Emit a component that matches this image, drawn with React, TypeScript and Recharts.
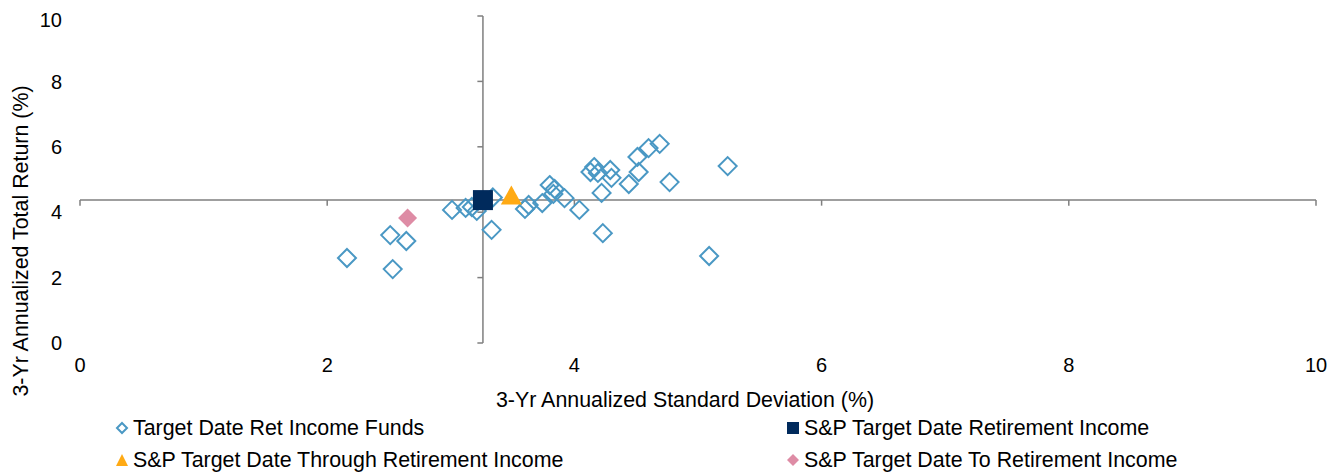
import { Label, ReferenceLine, Scatter, ScatterChart, XAxis, YAxis, ZAxis } from "recharts";

const fundReturns = [
  { sd: 2.16, ret: 2.6 },
  { sd: 2.51, ret: 3.3 },
  { sd: 2.64, ret: 3.12 },
  { sd: 2.53, ret: 2.26 },
  { sd: 3.01, ret: 4.07 },
  { sd: 3.12, ret: 4.13 },
  { sd: 3.17, ret: 4.16 },
  { sd: 3.21, ret: 4.04 },
  { sd: 3.34, ret: 4.45 },
  { sd: 3.33, ret: 3.46 },
  { sd: 3.6, ret: 4.1 },
  { sd: 3.63, ret: 4.22 },
  { sd: 3.74, ret: 4.28 },
  { sd: 3.8, ret: 4.83 },
  { sd: 3.84, ret: 4.71 },
  { sd: 3.83, ret: 4.56 },
  { sd: 3.92, ret: 4.43 },
  { sd: 4.04, ret: 4.07 },
  { sd: 4.13, ret: 5.23 },
  { sd: 4.16, ret: 5.38 },
  { sd: 4.19, ret: 5.2 },
  { sd: 4.29, ret: 5.29 },
  { sd: 4.3, ret: 5.05 },
  { sd: 4.22, ret: 4.59 },
  { sd: 4.23, ret: 3.36 },
  { sd: 4.44, ret: 4.86 },
  { sd: 4.52, ret: 5.23 },
  { sd: 4.51, ret: 5.69 },
  { sd: 4.6, ret: 5.96 },
  { sd: 4.69, ret: 6.09 },
  { sd: 4.77, ret: 4.92 },
  { sd: 5.24, ret: 5.41 },
  { sd: 5.09, ret: 2.66 },
];

const retirementIncome = [{ sd: 3.26, ret: 4.37 }];
const throughRetirement = [{ sd: 3.49, ret: 4.45 }];
const toRetirement = [{ sd: 2.65, ret: 3.82 }];

const xTicks = [0, 2, 4, 6, 8, 10];
const yTicks = [0, 2, 4, 6, 8, 10];

// axes cross at the S&P Target Date Retirement Income point
const crossX = retirementIncome[0].sd;
const crossY = retirementIncome[0].ret;

const FONT = "'Liberation Sans', Arial, sans-serif";
const AXIS = "#7f7f7f";
const BLUE = "#4a98c4";
const NAVY = "#002a5c";
const ORANGE = "#ffaa14";
const PINK = "#de8ca5";

function OpenDiamond({ cx, cy }: any) {
  const r = 9;
  return (
    <polygon
      points={`${cx},${cy - r} ${cx + r},${cy} ${cx},${cy + r} ${cx - r},${cy}`}
      fill="none"
      stroke={BLUE}
      strokeWidth={2}
    />
  );
}

function PinkDiamond({ cx, cy }: any) {
  const r = 9.5;
  return <polygon points={`${cx},${cy - r} ${cx + r},${cy} ${cx},${cy + r} ${cx - r},${cy}`} fill={PINK} />;
}

function NavySquare({ cx, cy }: any) {
  return <rect x={cx - 10} y={cy - 10} width={20} height={20} fill={NAVY} />;
}

function OrangeTriangle({ cx, cy }: any) {
  return <polygon points={`${cx},${cy - 12} ${cx + 10.5},${cy + 7} ${cx - 10.5},${cy + 7}`} fill={ORANGE} />;
}

const legendItems = [
  { name: "Target Date Ret Income Funds", icon: "open", left: 107, top: 420 },
  { name: "S&P Target Date Retirement Income", icon: "square", left: 778, top: 420 },
  { name: "S&P Target Date Through Retirement Income", icon: "triangle", left: 107, top: 452 },
  { name: "S&P Target Date To Retirement Income", icon: "pink", left: 778, top: 452 },
];

function LegendIcon({ icon }: { icon: string }) {
  return (
    <svg width={14} height={14} style={{ marginRight: 4 }}>
      {icon === "open" && <polygon points="7,2 12,7 7,12 2,7" fill="none" stroke={BLUE} strokeWidth={2} />}
      {icon === "square" && <rect x={1} y={1} width={12} height={12} fill={NAVY} />}
      {icon === "triangle" && <polygon points="7,1 13,13 1,13" fill={ORANGE} />}
      {icon === "pink" && <polygon points="7,1 13,7 7,13 1,7" fill={PINK} />}
    </svg>
  );
}

export default function App() {
  return (
    <div style={{ position: "relative", width: 1327, height: 468, fontFamily: FONT }}>
      <ScatterChart width={1327} height={468} margin={{ top: 8, right: 19, left: 0, bottom: 103 }}>
        <XAxis
          type="number"
          dataKey="sd"
          domain={[0, 10]}
          ticks={xTicks}
          axisLine={false}
          tickLine={false}
          tickSize={0}
          tickMargin={15}
          height={30}
          tick={{ fill: "#000", fontSize: 20, fontFamily: FONT }}
        >
          <Label
            content={({ viewBox }: any) => (
              <text
                x={viewBox.x + viewBox.width / 2 - 13}
                y={viewBox.y + 64}
                textAnchor="middle"
                fontSize={21.4}
                fontFamily={FONT}
                fill="#000"
              >
                3-Yr Annualized Standard Deviation (%)
              </text>
            )}
          />
        </XAxis>
        <YAxis
          type="number"
          dataKey="ret"
          domain={[0, 10]}
          ticks={yTicks}
          axisLine={false}
          tickLine={false}
          tickSize={0}
          tickMargin={18}
          width={72}
          tick={{ fill: "#000", fontSize: 20, fontFamily: FONT }}
        >
          <Label
            content={() => (
              <text
                x={13}
                y={233}
                transform="rotate(-90 13 233)"
                textAnchor="middle"
                dominantBaseline="central"
                fontSize={21.4}
                fontFamily={FONT}
                fill="#000"
              >
                3-Yr Annualized Total Return (%)
              </text>
            )}
          />
        </YAxis>
        <ZAxis range={[100, 100]} />
        <ReferenceLine y={crossY} stroke={AXIS} strokeWidth={1.5} />
        <ReferenceLine x={crossX} stroke={AXIS} strokeWidth={1.5} />
        {xTicks.map((t) => (
          <ReferenceLine
            key={`xt${t}`}
            segment={[
              { x: t, y: crossY },
              { x: t, y: crossY - 0.17 },
            ]}
            stroke={AXIS}
            strokeWidth={1.5}
          />
        ))}
        {yTicks.map((t) => (
          <ReferenceLine
            key={`yt${t}`}
            segment={[
              { x: crossX - 0.045, y: t },
              { x: crossX, y: t },
            ]}
            stroke={AXIS}
            strokeWidth={1.5}
          />
        ))}
        <Scatter name="Target Date Ret Income Funds" data={fundReturns} shape={OpenDiamond} isAnimationActive={false} />
        <Scatter name="S&P Target Date To Retirement Income" data={toRetirement} shape={PinkDiamond} isAnimationActive={false} />
        <Scatter
          name="S&P Target Date Through Retirement Income"
          data={throughRetirement}
          shape={OrangeTriangle}
          isAnimationActive={false}
        />
        <Scatter name="S&P Target Date Retirement Income" data={retirementIncome} shape={NavySquare} isAnimationActive={false} />
      </ScatterChart>
      {legendItems.map((item) => (
        <div
          key={item.name}
          style={{
            position: "absolute",
            left: item.left,
            top: item.top - 12,
            height: 24,
            display: "flex",
            alignItems: "center",
            fontSize: 21.4,
            color: "#000",
            whiteSpace: "nowrap",
          }}
        >
          <LegendIcon icon={item.icon} />
          {item.name}
        </div>
      ))}
    </div>
  );
}
